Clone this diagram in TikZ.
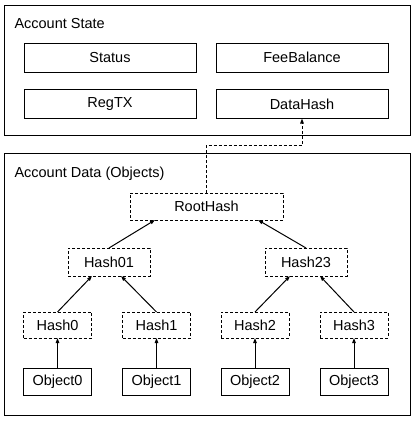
\documentclass[tikz,border=0pt]{standalone}
\usepackage{fontspec}
\setmainfont{Liberation Sans}
\usetikzlibrary{arrows.meta}
\begin{document}
\begin{tikzpicture}[x=1pt,y=-1pt,line width=1pt,
  every node/.style={font=\fontsize{14.5}{16}\selectfont},
  box/.style={draw,inner sep=0pt,outer sep=0pt,minimum width=172pt,minimum height=29pt},
  hbox/.style={draw,dash pattern=on 3pt off 2pt,inner sep=0pt,outer sep=0pt,minimum height=27pt},
  obox/.style={draw,inner sep=0pt,outer sep=0pt,minimum width=68pt,minimum height=27pt},
  arr/.style={-{Triangle[length=5pt,width=3.5pt]}},
  ttl/.style={anchor=west,inner sep=0pt}]
\useasboundingbox (0,0) rectangle (415,421);
% containers
\draw (4,5) rectangle (410,135);
\node[ttl] (t1) at (14,24) {Account State};
\draw (4,153) rectangle (410,415);
\node[ttl] (t2) at (14,174) {Account Data (Objects)};
% account state fields
\node[box] (status) at (110,57.5) {Status};
\node[box] (fee) at (302,57.5) {FeeBalance};
\node[box] (regtx) at (110,104) {RegTX};
\node[box] (datahash) at (302,104) {DataHash};
% merkle tree
\node[hbox,minimum width=153pt] (root) at (206.5,206.5) {RootHash};
\node[hbox,minimum width=82pt,minimum height=28pt] (h01) at (109,262) {Hash01};
\node[hbox,minimum width=82pt,minimum height=28pt] (h23) at (306,262) {Hash23};
\node[hbox,minimum width=68pt,minimum height=26pt] (h0) at (57.5,325) {Hash0};
\node[hbox,minimum width=68pt,minimum height=26pt] (h1) at (156.5,325) {Hash1};
\node[hbox,minimum width=68pt,minimum height=26pt] (h2) at (255,325) {Hash2};
\node[hbox,minimum width=68pt,minimum height=26pt] (h3) at (354,325) {Hash3};
\node[obox] (o0) at (57.5,381.5) {Object0};
\node[obox] (o1) at (156.5,381.5) {Object1};
\node[obox] (o2) at (255,381.5) {Object2};
\node[obox] (o3) at (354,381.5) {Object3};
% connectors
\coordinate (bend) at (302,145);
\draw[arr,dash pattern=on 3pt off 2pt] (root.north) |- (bend) -- (datahash.south);
\draw[arr] (h01.north) -- ([xshift=-51.5pt]root.south);
\draw[arr] (h23.north) -- ([xshift=51.5pt]root.south);
\draw[arr] (h0.north) -- ([xshift=-17pt]h01.south);
\draw[arr] (h1.north) -- ([xshift=12pt]h01.south);
\draw[arr] (h2.north) -- ([xshift=-16pt]h23.south);
\draw[arr] (h3.north) -- ([xshift=14pt]h23.south);
\draw[arr] (o0.north) -- (h0.south);
\draw[arr] (o1.north) -- (h1.south);
\draw[arr] (o2.north) -- (h2.south);
\draw[arr] (o3.north) -- (h3.south);
\end{tikzpicture}
\end{document}
